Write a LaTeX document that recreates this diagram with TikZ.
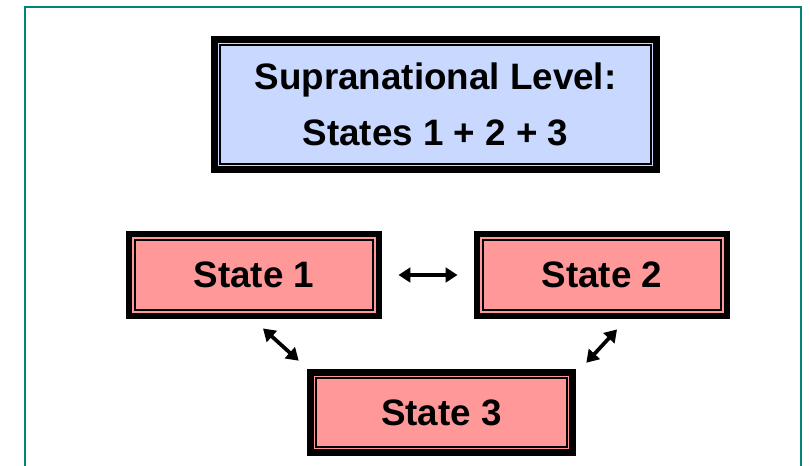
\documentclass[tikz,border=0pt]{standalone}
\usepackage{fontspec}
\setmainfont{Liberation Sans}
\usepackage{tikz}
\usetikzlibrary{positioning,calc,arrows.meta}
\definecolor{LevelBlue}{HTML}{C8D8FF}
\definecolor{StatePink}{HTML}{FF9999}
\definecolor{FrameTeal}{HTML}{008577}

\begin{document}
\begin{tikzpicture}[x=0.75pt,y=-0.75pt,
    levelbox/.style={draw=black,line width=5.2pt,inner sep=0pt,align=center,
      font=\fontsize{27.6}{42}\selectfont\bfseries},
    link/.style={{Triangle[length=9pt,width=11pt]}-{Triangle[length=9pt,width=11pt]},line width=2.8pt}]
        \useasboundingbox (0,0) rectangle (810,465);
        \draw[FrameTeal,line width=1.6pt] (25,7) rectangle (801,480);
        % boxes
        \node[levelbox,fill=LevelBlue,minimum width=332pt,minimum height=98pt]
          (supra) at (435.5,104.5) {Supranational Level:\\States 1 + 2 + 3};
        \node[levelbox,fill=StatePink,minimum width=187.5pt,minimum height=61.5pt]
          (s1) at (254,275) {State 1};
        \node[levelbox,fill=StatePink,minimum width=187.5pt,minimum height=61.5pt]
          (s2) at (602,275) {State 2};
        \node[levelbox,fill=StatePink,minimum width=197pt,minimum height=60.5pt]
          (s3) at (441.5,412.5) {State 3};
        \foreach \b in {supra,s1,s2,s3} {
          \draw[line width=1.3pt] ($(\b.south west)+(7pt,7pt)$) rectangle ($(\b.north east)-(7pt,7pt)$);
        }
        % arrows between the states
        \draw[link] ([xshift=12pt]s1.east) -- ([xshift=-12pt]s2.west);
        \draw[link] ([shift={(9,9)}]s1.south) -- ([shift={(-8,-8)}]s3.north west);
        \draw[link] ([shift={(15,10)}]s2.south) -- ([shift={(10,-6)}]s3.north east);
      \end{tikzpicture}
\end{document}
